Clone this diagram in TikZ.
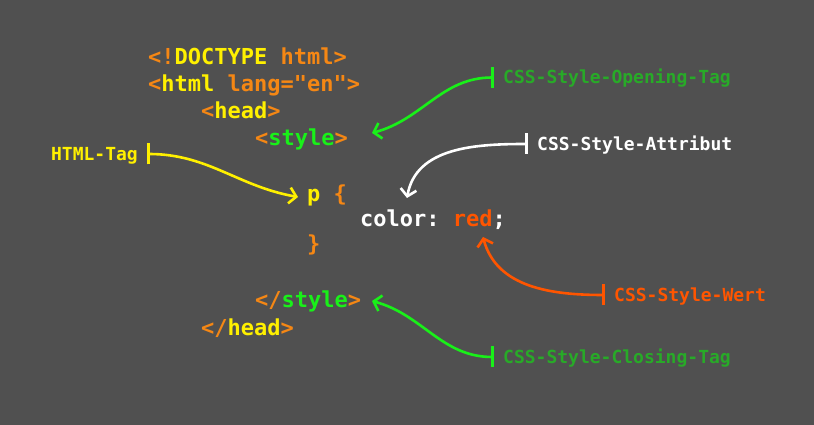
\documentclass[tikz,border=0pt]{standalone}
\usepackage{fontspec}
\setmonofont{DejaVu Sans Mono}
\usetikzlibrary{arrows.meta}
\definecolor{bg}{RGB}{80,80,80}
\definecolor{tagorange}{RGB}{245,135,20}
\definecolor{tagyellow}{RGB}{255,240,0}
\definecolor{stylegreen}{RGB}{25,240,25}
\definecolor{labelgreen}{RGB}{40,170,40}
\definecolor{valred}{RGB}{255,85,0}
\newcommand{\og}[1]{\textcolor{tagorange}{#1}}
\newcommand{\yl}[1]{\textcolor{tagyellow}{#1}}
\newcommand{\gr}[1]{\textcolor{stylegreen}{#1}}

\begin{document}
\begin{tikzpicture}[x=1pt,y=1pt,
  code/.style={anchor=base west,inner sep=0pt,font=\ttfamily\bfseries\fontsize{22}{26}\selectfont},
  lbl/.style={inner xsep=9pt,inner ysep=0pt,text height=13pt,text depth=0pt,font=\ttfamily\bfseries\fontsize{18}{22}\selectfont},
  pointer/.style={line width=2.6pt,{Bar[width=21pt]}-{Straight Barb[length=7pt,width=16pt]}}]
	\def\colA{148};
	\def\colB{201};
	\def\colC{255};
	\def\colD{307};
	\def\colE{360};
	\fill[bg] (0,0) rectangle (814,425);
	\node[code] (doctype) at (\colA,360) {\og{<!}\yl{DOCTYPE} \og{html>}};
	\node[code] (html) at (\colA,333) {\og{<}\yl{html} \og{lang="en">}};
	\node[code] (head) at (\colB,306) {\og{<}\yl{head}\og{>}};
	\node[code] (style) at (\colC,279) {\og{<}\gr{style}\og{>}};
	\node[code] (psel) at (\colD,223) {\yl{p} \og{\{}};
	\node[code,text=white] (decl) at (\colE,198) {color: \textcolor{valred}{red};};
	\node[code] (pend) at (\colD,173) {\og{\}}};
	\node[code] (styleend) at (\colC,117) {\og{</}\gr{style}\og{>}};
	\node[code] (headend) at (\colB,89) {\og{</}\yl{head}\og{>}};
	\node[lbl,anchor=east,text=tagyellow] (lhtml) at (147,271) {HTML-Tag};
	\node[lbl,anchor=west,text=labelgreen] (lopen) at (494,347.5) {CSS-Style-Opening-Tag};
	\node[lbl,anchor=west,text=white] (lattr) at (528,281) {CSS-Style-Attribut};
	\node[lbl,anchor=west,text=valred] (lwert) at (605,130) {CSS-Style-Wert};
	\node[lbl,anchor=west,text=labelgreen] (lclose) at (494,68) {CSS-Style-Closing-Tag};
	\coordinate (thtml) at (298,228);
	\coordinate (topen) at (372,292);
	\coordinate (tattr) at (407,227);
	\coordinate (twert) at (483,188);
	\coordinate (tclose) at (372,124);
	\draw[pointer,tagyellow] (lhtml.east) to[out=0,in=170] (thtml);
	\draw[pointer,stylegreen] (lopen.west) to[out=180,in=15] (topen);
	\draw[pointer,white] (lattr.west) to[out=180,in=80] (tattr);
	\draw[pointer,valred] (lwert.west) to[out=180,in=-75] (twert);
	\draw[pointer,stylegreen] (lclose.west) to[out=180,in=-15] (tclose);
\end{tikzpicture}
\end{document}
